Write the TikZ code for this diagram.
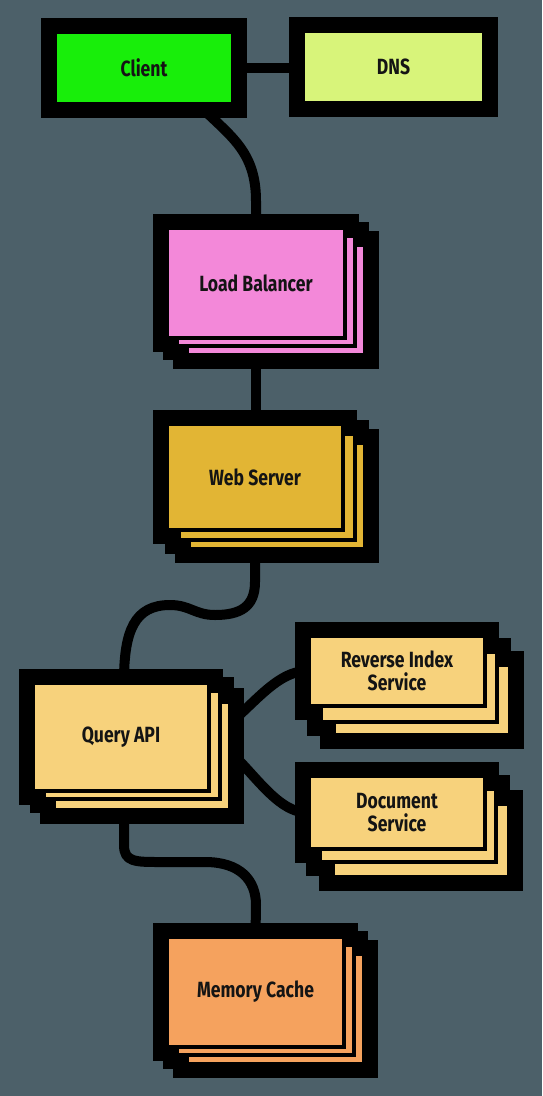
\documentclass[tikz,border=0pt]{standalone}
\usepackage{fontspec}
\newfontfamily\lbl[FakeStretch=0.8]{Fira Sans}
\usetikzlibrary{calc}
\pgfdeclarelayer{back}
\pgfdeclarelayer{wires}
\pgfdeclarelayer{halos}
\pgfsetlayers{back,wires,halos,main}
\definecolor{bgc}{RGB}{76,96,105}
\definecolor{cgreen}{RGB}{24,238,10}
\definecolor{cdns}{RGB}{216,244,122}
\definecolor{cpink}{RGB}{243,136,217}
\definecolor{cgold}{RGB}{226,181,52}
\definecolor{csand}{RGB}{247,210,124}
\definecolor{corange}{RGB}{245,162,94}
\tikzset{
  halo/.style={draw=black, fill=black, line width=28pt, inner sep=0pt, line join=miter},
  card/.style={draw=black, line width=4pt, inner sep=0pt, align=center,
    font=\lbl\bfseries\fontsize{22}{23}\selectfont, text=black!92},
  wire/.style={draw=black, line width=10pt, line cap=butt, line join=round},
}
% #1 name, #2 x, #3 y, #4 width, #5 height, #6 colour, #7 text
\newcommand{\cardat}[7]{%
  \begin{pgfonlayer}{halos}
    \node[halo, minimum width=#4, minimum height=#5] at (#2,#3) {};
  \end{pgfonlayer}
  \node[card, fill=#6, minimum width=#4, minimum height=#5] (#1) at (#2,#3) {#7};
}
\begin{document}
\begin{tikzpicture}[x=1pt,y=-1pt]
\begin{pgfonlayer}{back}
  \fill[bgc] (0,0) rectangle (542,1096);
\end{pgfonlayer}
\useasboundingbox (0,0) rectangle (542,1096);

% Client and DNS
\cardat{Client}{144}{68}{178}{72}{cgreen}{Client}
\cardat{DNS}{393.5}{67}{181}{72}{cdns}{DNS}

% Load Balancer
\cardat{LB3}{276}{300}{178}{110}{cpink}{}
\cardat{LB2}{266}{291}{178}{110}{cpink}{}
\cardat{LB}{256}{283}{178}{110}{cpink}{Load Balancer}

% Web Server
\cardat{Web3}{277}{496}{176}{106}{cgold}{}
\cardat{Web2}{267}{487}{176}{106}{cgold}{}
\cardat{Web}{255}{477}{176}{106}{cgold}{Web Server}

% Query API
\cardat{Query3}{142}{756}{176}{108}{csand}{}
\cardat{Query2}{132}{745}{176}{108}{csand}{}
\cardat{Query}{121}{737}{176}{108}{csand}{Query API}

% Reverse Index Service
\cardat{RI3}{422}{700}{176}{70}{csand}{}
\cardat{RI2}{409}{687}{176}{70}{csand}{}
\cardat{RI}{397}{671}{176}{70}{csand}{Reverse Index\\Service}

% Document Service
\cardat{Doc3}{421}{840}{176}{73}{csand}{}
\cardat{Doc2}{408}{825.5}{176}{73}{csand}{}
\cardat{Doc}{397}{812.5}{176}{73}{csand}{Document\\Service}

% Memory Cache
\cardat{Mem3}{275.5}{1009}{177}{110}{corange}{}
\cardat{Mem2}{265.5}{1000}{177}{110}{corange}{}
\cardat{Mem}{255.5}{992}{177}{110}{corange}{Memory Cache}

% connectors
\begin{pgfonlayer}{wires}
  \draw[wire] (Client.east) -- (DNS.west |- Client.east);
  \draw[wire] ($(Client.south)+(56,0)$) .. controls +(30,30) and +(0,-50) ..
        ($(LB.north)+(0,-25)$) -- (LB.north);
  \draw[wire] (LB.south) -- (LB.south |- Web.north);
  \draw[wire] (Web.south) -- ++(0,50) .. controls +(0,25) and +(25,0) .. (215,615)
        .. controls (195,615) and (190,605) .. (170,605)
        .. controls (135,605) and (124,630) .. ($(Query.north)+(3,0)$);
  \draw[wire] (Query.east) .. controls +(35,-20) and +(-35,0) .. (RI.west);
  \draw[wire] (Query.east) .. controls +(35,20) and +(-35,0) .. (Doc.west);
  \draw[wire] ($(Query.south)+(3,0)$) -- (124,845) .. controls (124,862) and (135,862) .. (160,862)
        -- (205,862) .. controls (240,862) and (256,880) .. (256,905) -- (Mem.north);
\end{pgfonlayer}
\end{tikzpicture}
\end{document}
